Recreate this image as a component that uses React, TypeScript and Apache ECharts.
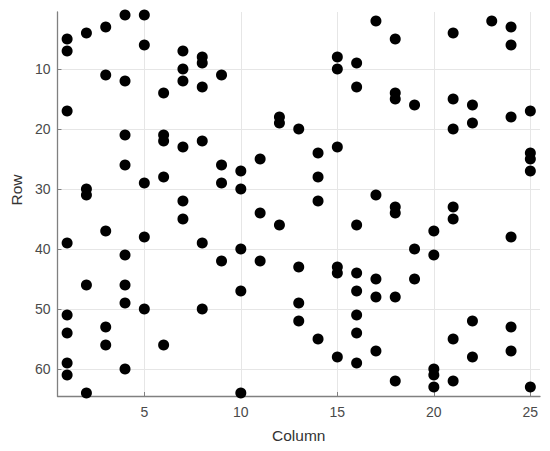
import React, { useEffect, useRef } from "react";
import * as echarts from "echarts";

// Column indices (x) and, for each column, the rows (y) holding a marker
const columns = [1, 2, 3, 4, 5, 6, 7, 8, 9, 10, 11, 12, 13, 14, 15, 16, 17, 18, 19, 20, 21, 22, 23, 24, 25];
const rowsByColumn: number[][] = [
  [5, 7, 17, 39, 51, 54, 59, 61],
  [4, 30, 31, 46, 64],
  [3, 11, 37, 53, 56],
  [1, 12, 21, 26, 41, 46, 49, 60],
  [1, 6, 29, 38, 50],
  [14, 21, 22, 28, 56],
  [7, 10, 12, 23, 32, 35],
  [8, 9, 13, 22, 39, 50],
  [11, 26, 29, 42],
  [27, 30, 40, 47, 64],
  [25, 34, 42],
  [18, 19, 36],
  [20, 43, 49, 52],
  [24, 28, 32, 55],
  [8, 10, 23, 43, 44, 58],
  [9, 13, 36, 44, 47, 51, 54, 59],
  [2, 31, 45, 48, 57],
  [5, 14, 15, 33, 34, 48, 62],
  [16, 40, 45],
  [37, 41, 60, 61, 63],
  [4, 15, 20, 33, 35, 55, 62],
  [16, 19, 52, 58],
  [2],
  [3, 6, 18, 38, 53, 57],
  [17, 24, 25, 27, 63],
];
const xTicks = [5, 10, 15, 20, 25];
const yTicks = [10, 20, 30, 40, 50, 60];
const xRange = [0.5, 25.5];
const yRange = [0.5, 64.5];

export default function App() {
  const ref = useRef<HTMLDivElement>(null);

  useEffect(() => {
    if (!ref.current) return;
    const chart = echarts.init(ref.current, undefined, { renderer: "svg" });
    const points: number[][] = [];
    columns.forEach((c, i) => rowsByColumn[i].forEach((r) => points.push([c, r])));

    const font = "'Liberation Sans', Arial, Helvetica, sans-serif";
    const axisCommon = {
      axisLine: { show: true, lineStyle: { color: "#808080", width: 1.3 } },
      axisTick: { show: true, inside: true, length: 4, lineStyle: { color: "#808080" } },
      splitLine: { show: true, lineStyle: { color: "#e6e6e6", width: 1 } },
    };

    chart.setOption({
      animation: false,
      backgroundColor: "#ffffff",
      grid: { left: 54, right: 10, top: 12, bottom: 55, containLabel: false },
      xAxis: {
        type: "value",
        min: xRange[0],
        max: xRange[1],
        name: "Column",
        nameLocation: "middle",
        nameGap: 31,
        nameTextStyle: { color: "#333333", fontSize: 15.5, fontFamily: font },
        ...axisCommon,
        axisTick: { ...axisCommon.axisTick, customValues: xTicks },
        axisLabel: {
          customValues: xTicks,
          color: "#4a4a4a",
          fontSize: 14,
          fontFamily: font,
          margin: 9,
        },
      },
      yAxis: {
        type: "value",
        inverse: true,
        min: yRange[0],
        max: yRange[1],
        name: "Row",
        nameLocation: "middle",
        nameGap: 30,
        nameTextStyle: {
          color: "#333333",
          fontSize: 15.5,
          fontFamily: font,
          padding: [0, 0, 0, 28],
        },
        ...axisCommon,
        axisTick: { ...axisCommon.axisTick, customValues: yTicks },
        axisLabel: {
          customValues: yTicks,
          color: "#4a4a4a",
          fontSize: 14,
          fontFamily: font,
          margin: 7,
        },
      },
      series: [
        {
          type: "scatter",
          data: points,
          symbol: "circle",
          symbolSize: 11,
          itemStyle: { color: "#000000", opacity: 1 },
        },
      ],
    });
    return () => chart.dispose();
  }, []);

  return (
    <div
      ref={ref}
      style={{ position: "fixed", left: 0, top: 0, width: 550, height: 451 }}
    />
  );
}
